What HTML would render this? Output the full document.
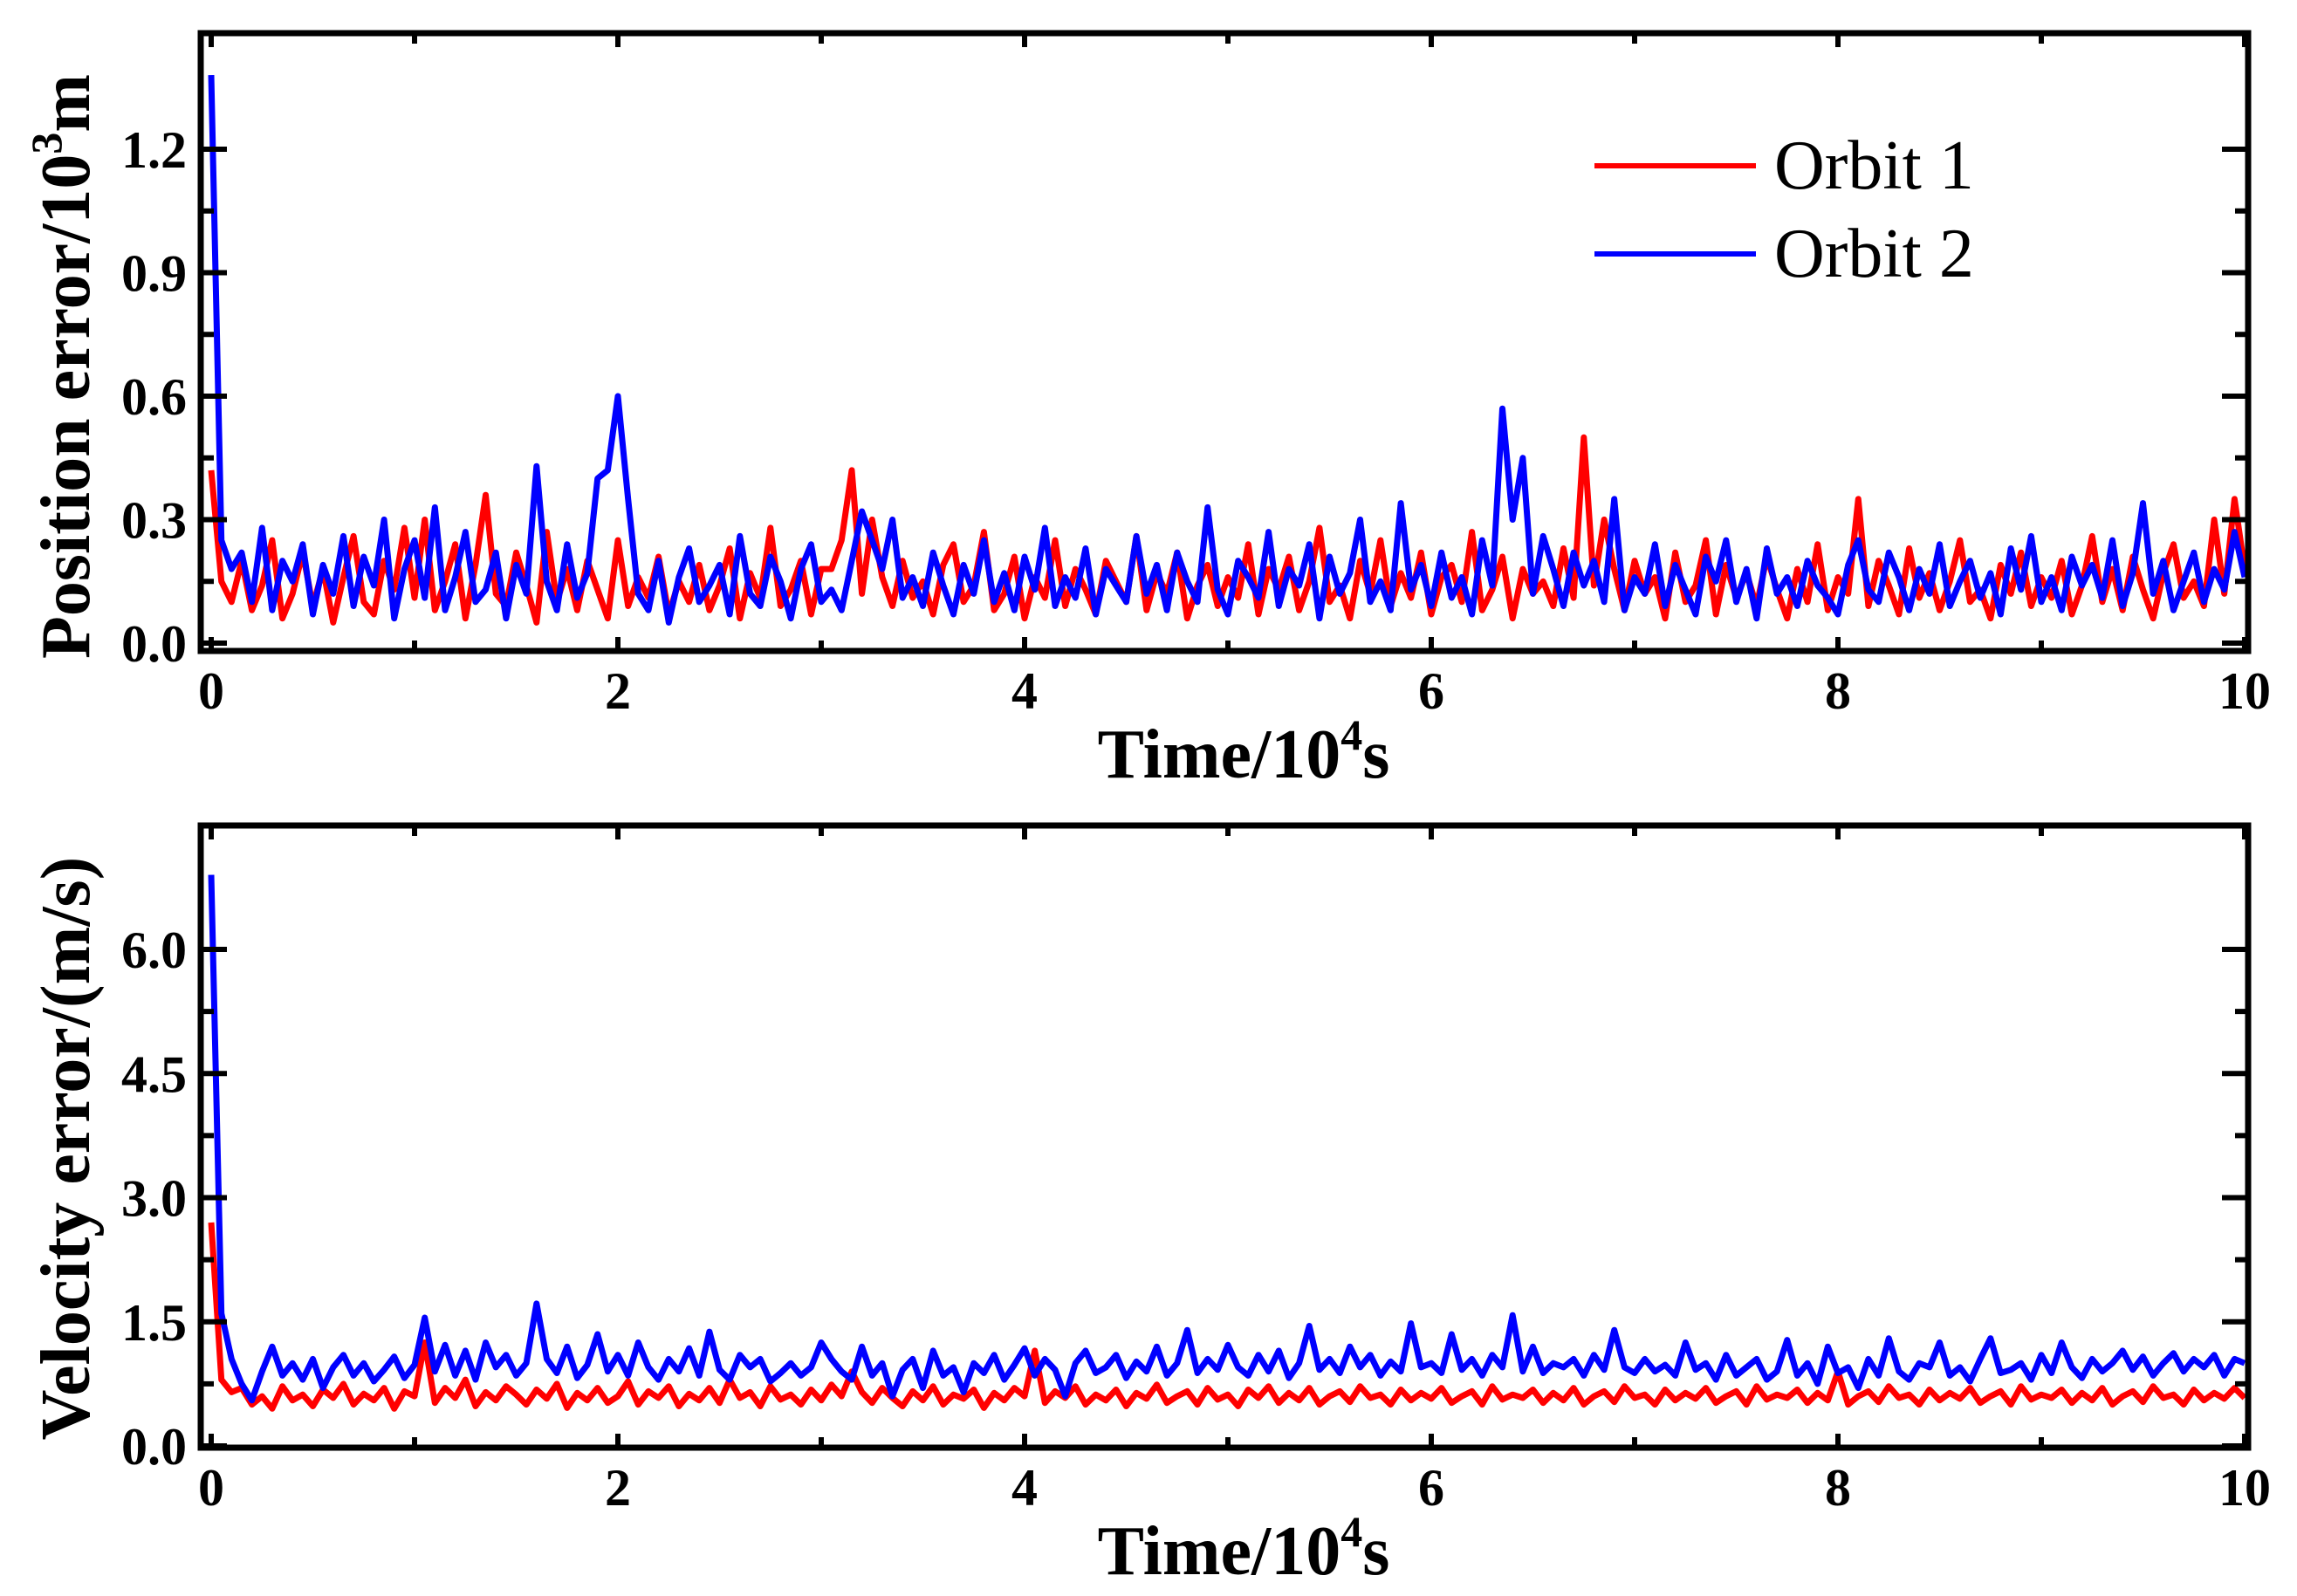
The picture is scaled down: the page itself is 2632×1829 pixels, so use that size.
<!DOCTYPE html>
<html><head><meta charset="utf-8"><style>
html,body{margin:0;padding:0;background:#fff;}
svg{display:block;}
text{font-family:"Liberation Serif",serif;}
</style></head><body>
<svg id="chart" width="2632" height="1829" viewBox="0 0 2632 1829" xmlns="http://www.w3.org/2000/svg"></svg>
<script>
const xTicks=[0,2,4,6,8,10];
const topYTicks=[0.0,0.3,0.6,0.9,1.2];
const topYLabels=["0.0","0.3","0.6","0.9","1.2"];
const botYTicks=[0.0,1.5,3.0,4.5,6.0];
const botYLabels=["0.0","1.5","3.0","4.5","6.0"];
const timeStep=0.05;
const posOrbit1=[0.42,0.15,0.10,0.20,0.08,0.14,0.25,0.06,0.12,0.22,
0.09,0.18,0.05,0.16,0.26,0.10,0.07,0.20,0.13,0.28,
0.11,0.30,0.08,0.15,0.24,0.06,0.19,0.36,0.12,0.09,
0.22,0.14,0.05,0.27,0.10,0.18,0.08,0.20,0.13,0.06,
0.25,0.09,0.16,0.11,0.21,0.07,0.15,0.10,0.19,0.08,
0.14,0.23,0.06,0.17,0.11,0.28,0.09,0.13,0.20,0.07,
0.18,0.18,0.25,0.42,0.12,0.30,0.16,0.09,0.20,0.11,
0.15,0.07,0.19,0.24,0.10,0.14,0.27,0.08,0.12,0.21,
0.06,0.16,0.11,0.25,0.09,0.18,0.13,0.07,0.20,0.15,
0.10,0.26,0.08,0.17,0.12,0.22,0.06,0.14,0.19,0.09,
0.16,0.11,0.24,0.07,0.18,0.13,0.21,0.08,0.15,0.28,
0.10,0.14,0.06,0.20,0.12,0.25,0.09,0.17,0.11,0.22,
0.07,0.16,0.19,0.10,0.27,0.08,0.13,0.21,0.06,0.18,
0.12,0.15,0.09,0.23,0.11,0.50,0.14,0.30,0.18,0.08,
0.20,0.12,0.16,0.06,0.22,0.10,0.14,0.25,0.07,0.19,
0.11,0.17,0.09,0.21,0.13,0.06,0.18,0.10,0.24,0.08,
0.16,0.12,0.35,0.09,0.20,0.14,0.07,0.23,0.11,0.17,
0.08,0.15,0.25,0.10,0.13,0.06,0.19,0.12,0.22,0.09,
0.16,0.11,0.20,0.07,0.14,0.26,0.10,0.18,0.08,0.21,
0.13,0.06,0.17,0.24,0.11,0.15,0.09,0.30,0.12,0.35,
0.18];
const posOrbit2=[1.38,0.25,0.18,0.22,0.10,0.28,0.08,0.20,0.15,0.24,
0.07,0.19,0.12,0.26,0.09,0.21,0.14,0.30,0.06,0.18,
0.25,0.11,0.33,0.08,0.16,0.27,0.10,0.13,0.22,0.06,
0.19,0.12,0.43,0.15,0.08,0.24,0.11,0.17,0.40,0.42,
0.60,0.35,0.12,0.08,0.20,0.05,0.16,0.23,0.10,0.14,
0.19,0.07,0.26,0.12,0.09,0.21,0.15,0.06,0.18,0.24,
0.10,0.13,0.08,0.20,0.32,0.25,0.18,0.30,0.11,0.16,
0.09,0.22,0.14,0.07,0.19,0.12,0.25,0.10,0.17,0.08,
0.21,0.13,0.28,0.09,0.16,0.11,0.23,0.07,0.18,0.14,
0.10,0.26,0.12,0.19,0.08,0.22,0.15,0.10,0.33,0.13,
0.07,0.20,0.16,0.11,0.27,0.09,0.18,0.14,0.24,0.06,
0.21,0.12,0.17,0.30,0.10,0.15,0.08,0.34,0.13,0.19,
0.09,0.22,0.11,0.16,0.07,0.25,0.14,0.57,0.30,0.45,
0.12,0.26,0.18,0.09,0.22,0.14,0.20,0.10,0.35,0.08,
0.16,0.12,0.24,0.09,0.19,0.13,0.07,0.21,0.15,0.25,
0.10,0.18,0.06,0.23,0.12,0.16,0.09,0.20,0.14,0.11,
0.07,0.19,0.25,0.13,0.10,0.22,0.16,0.08,0.18,0.12,
0.24,0.09,0.15,0.20,0.11,0.17,0.07,0.23,0.13,0.26,
0.10,0.16,0.08,0.21,0.14,0.19,0.11,0.25,0.09,0.17,
0.34,0.12,0.20,0.08,0.15,0.22,0.10,0.18,0.13,0.27,
0.16];
const velOrbit1=[2.70,0.80,0.65,0.70,0.50,0.60,0.45,0.72,0.55,0.62,
0.48,0.68,0.58,0.75,0.50,0.63,0.55,0.70,0.45,0.66,
0.60,1.25,0.52,0.70,0.58,0.80,0.48,0.65,0.55,0.72,
0.62,0.50,0.68,0.57,0.75,0.46,0.64,0.55,0.70,0.52,
0.60,0.78,0.50,0.66,0.58,0.72,0.48,0.63,0.55,0.70,
0.52,0.80,0.58,0.65,0.48,0.72,0.56,0.62,0.50,0.68,
0.55,0.74,0.60,0.90,0.65,0.52,0.70,0.58,0.48,0.66,
0.55,0.72,0.50,0.62,0.57,0.68,0.46,0.64,0.55,0.70,
0.60,1.15,0.52,0.66,0.58,0.72,0.50,0.62,0.55,0.68,
0.48,0.64,0.57,0.74,0.52,0.60,0.66,0.50,0.70,0.56,
0.62,0.48,0.68,0.58,0.72,0.52,0.64,0.55,0.70,0.50,
0.60,0.66,0.53,0.72,0.58,0.62,0.50,0.68,0.55,0.64,
0.57,0.70,0.52,0.60,0.66,0.50,0.72,0.56,0.62,0.58,
0.68,0.52,0.64,0.55,0.70,0.50,0.60,0.66,0.53,0.72,
0.58,0.62,0.50,0.68,0.55,0.64,0.57,0.70,0.52,0.60,
0.66,0.50,0.72,0.56,0.62,0.58,0.68,0.52,0.64,0.55,
0.90,0.50,0.60,0.66,0.53,0.72,0.58,0.62,0.50,0.68,
0.55,0.64,0.57,0.70,0.52,0.60,0.66,0.50,0.72,0.56,
0.62,0.58,0.68,0.52,0.64,0.55,0.70,0.50,0.60,0.66,
0.53,0.72,0.58,0.62,0.50,0.68,0.55,0.64,0.57,0.70,
0.58];
const velOrbit2=[6.90,1.60,1.05,0.75,0.55,0.90,1.20,0.85,1.00,0.80,
1.05,0.70,0.95,1.10,0.85,1.00,0.78,0.92,1.08,0.82,
0.98,1.55,0.90,1.22,0.85,1.15,0.80,1.25,0.95,1.10,
0.85,1.00,1.72,1.05,0.88,1.20,0.82,0.98,1.35,0.90,
1.10,0.85,1.25,0.95,0.80,1.05,0.90,1.18,0.85,1.38,
0.92,0.80,1.10,0.95,1.05,0.78,0.88,1.00,0.85,0.95,
1.25,1.05,0.90,0.80,1.20,0.85,1.00,0.60,0.92,1.05,
0.70,1.15,0.85,0.95,0.65,1.00,0.88,1.10,0.80,0.98,
1.18,0.85,1.05,0.92,0.60,1.00,1.15,0.88,0.95,1.10,
0.82,1.02,0.90,1.20,0.85,1.00,1.40,0.88,1.05,0.92,
1.22,0.95,0.85,1.10,0.90,1.15,0.82,1.00,1.45,0.92,
1.05,0.88,1.20,0.95,1.10,0.85,1.02,0.90,1.48,0.95,
1.00,0.88,1.35,0.92,1.05,0.85,1.10,0.95,1.58,0.90,
1.20,0.88,1.00,0.95,1.05,0.85,1.10,0.92,1.40,0.95,
0.88,1.05,0.90,0.98,0.85,1.25,0.92,1.00,0.80,1.10,
0.85,0.95,1.05,0.80,0.90,1.28,0.85,1.00,0.75,1.20,
0.88,0.95,0.70,1.05,0.85,1.30,0.90,0.80,1.00,0.95,
1.25,0.85,0.95,0.78,1.05,1.30,0.88,0.92,1.00,0.80,
1.10,0.88,1.25,0.95,0.82,1.05,0.90,1.00,1.15,0.92,
1.08,0.85,1.00,1.12,0.90,1.05,0.95,1.10,0.85,1.05,
1.00];

const NS="http://www.w3.org/2000/svg";
const svg=document.getElementById('chart');
function mk(tag,attrs,parent){const e=document.createElementNS(NS,tag);for(const k in attrs)e.setAttribute(k,attrs[k]);(parent||svg).appendChild(e);return e;}
const X0=242,X1=2572;
function xs(t){return X0+(t/10)*(X1-X0);}

function drawPanel(cfg){
  const g=mk('g',{});
  
  
  const ys=v=>cfg.y0+(v-cfg.vmin)/(cfg.vmax-cfg.vmin)*(cfg.y1-cfg.y0);
  const clip=mk('clipPath',{id:cfg.name+'-clip'},g);
  mk('rect',{x:232,y:cfg.top,width:2342,height:cfg.bottom-cfg.top},clip);
  cfg.series.forEach(s=>{
    let d='';
    s.data.forEach((v,i)=>{d+=(i?'L':'M')+xs(i*timeStep).toFixed(1)+' '+ys(v).toFixed(1);});
    const p=mk('path',{d:d,fill:'none',stroke:s.color,'stroke-width':7,'stroke-linejoin':'round','clip-path':'url(#'+cfg.name+'-clip)'},g);
    
    
  });
  const fr=mk('rect',{x:230,y:cfg.top,width:2346,height:cfg.bottom-cfg.top,fill:'none',stroke:'#000','stroke-width':7},g);
  
  
  const step=cfg.yTicks[1]-cfg.yTicks[0];
  for(let v=cfg.vmin;v<=cfg.vmax+1e-9;v+=step/2){
    const major=Math.abs((v/step)-Math.round(v/step))<1e-6;
    const L=major?30:15;const y=ys(v);
    if(y<cfg.top+2)continue;
    mk('line',{x1:230,x2:230+L,y1:y,y2:y,stroke:'#000','stroke-width':6},g);
    mk('line',{x1:2576,x2:2576-L,y1:y,y2:y,stroke:'#000','stroke-width':6},g);
  }
  cfg.yTicks.forEach((v,i)=>{
    const t=mk('text',{x:214,y:ys(v)+21,'text-anchor':'end','font-size':60,'font-weight':'bold'},g);
    t.textContent=cfg.yLabels[i];
    
    
  });
  for(let t=0;t<=10;t+=1){
    const L=(t%2===0)?16:12;const x=xs(t);
    mk('line',{x1:x,x2:x,y1:cfg.bottom,y2:cfg.bottom-L,stroke:'#000','stroke-width':6},g);
    mk('line',{x1:x,x2:x,y1:cfg.top,y2:cfg.top+L,stroke:'#000','stroke-width':6},g);
  }
  xTicks.forEach(t=>{
    const tx=mk('text',{x:xs(t),y:cfg.bottom+66,'text-anchor':'middle','font-size':60,'font-weight':'bold'},g);
    tx.textContent=String(t);
    
    
  });
  const xt=mk('text',{x:1425,y:cfg.bottom+145,'text-anchor':'middle','font-size':80,'font-weight':'bold'},g);
  
  
  xt.appendChild(document.createTextNode('Time/10'));
  const sup=mk('tspan',{dy:-32,'font-size':50},xt);sup.textContent='4';
  const s2=mk('tspan',{dy:32},xt);s2.textContent='s';
  const yt=mk('text',{x:0,y:0,'text-anchor':'middle','font-size':80,'font-weight':'bold',transform:'translate(102,'+cfg.titleY+') rotate(-90)'},g);
  
  
  cfg.title(yt);
}

drawPanel({name:'position-panel',top:38,bottom:746,y0:737,y1:171,vmin:0,vmax:1.2,yTicks:topYTicks,yLabels:topYLabels,titleY:420,
  series:[{name:'position-orbit-1-line',color:'#ff0000',data:posOrbit1},{name:'position-orbit-2-line',color:'#0000ff',data:posOrbit2}],
  title:function(t){t.appendChild(document.createTextNode('Position error/10'));const s=mk('tspan',{dy:-32,'font-size':50},t);s.textContent='3';const m=mk('tspan',{dy:32},t);m.textContent='m';}
});
drawPanel({name:'velocity-panel',top:946,bottom:1659,y0:1657,y1:1088,vmin:0,vmax:6,yTicks:botYTicks,yLabels:botYLabels,titleY:1316,
  series:[{name:'velocity-orbit-1-line',color:'#ff0000',data:velOrbit1},{name:'velocity-orbit-2-line',color:'#0000ff',data:velOrbit2}],
  title:function(t){t.appendChild(document.createTextNode('Velocity error/(m/s)'));}
});

const lg=mk('g',{});


[['Orbit 1','#ff0000',190],['Orbit 2','#0000ff',291]].forEach(e=>{
  const en=mk('g',{},lg);
  
  
  mk('line',{x1:1827,x2:2012,y1:e[2],y2:e[2],stroke:e[1],'stroke-width':6},en);
  const t=mk('text',{x:2033,y:e[2]+26,'font-size':80},en);
  t.textContent=e[0];
});
</script>
</body></html>
